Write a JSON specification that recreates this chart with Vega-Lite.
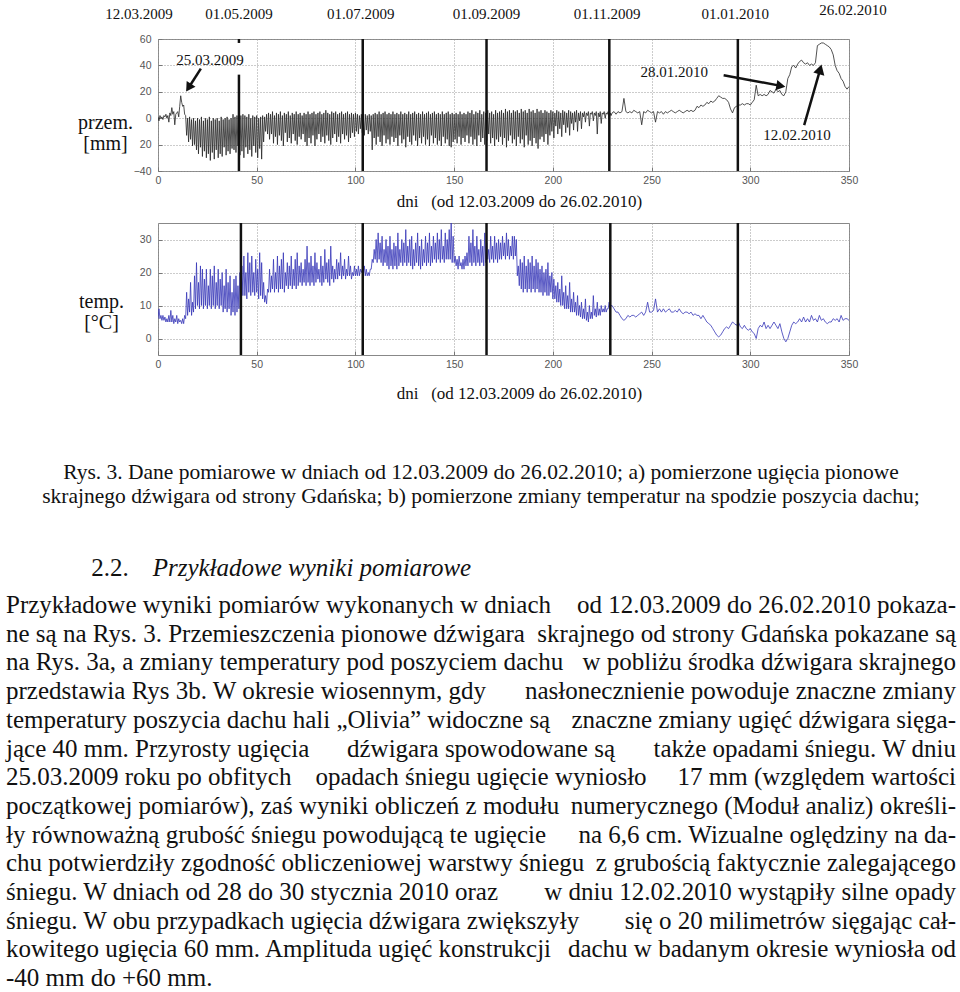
{
"$schema":"https://vega.github.io/schema/vega-lite/v6.json",
"background":"white",
"padding":{"left":5,"top":2,"right":0,"bottom":0},
"spacing":11,
"config":{"view":{"stroke":"#888","strokeWidth":1},"text":{"font":"Liberation Serif","color":"#111"},"axis":{"labelOverlap":false}},
"datasets":{
"s":[
{"day":0,"mm":1,"t":6},{"day":0.5,"mm":-2,"t":9},{"day":1,"mm":2,"t":6},{"day":1.5,"mm":0,"t":7},{"day":2,"mm":1,"t":5.5},{"day":2.5,"mm":-1,"t":7},{"day":3,"mm":2,"t":5.5},{"day":3.5,"mm":1,"t":6.5},{"day":4,"mm":3,"t":5},{"day":4.5,"mm":0,"t":6},{"day":5,"mm":2,"t":5},{"day":5.5,"mm":-3,"t":7},{"day":6,"mm":4,"t":5},{"day":6.5,"mm":2,"t":8.5},{"day":7,"mm":8,"t":5},{"day":7.5,"mm":3,"t":7},{"day":8,"mm":5,"t":4.5},{"day":8.5,"mm":-5,"t":6},{"day":9,"mm":3,"t":5},{"day":9.5,"mm":4,"t":7},{"day":10,"mm":5,"t":4.5},{"day":10.5,"mm":1,"t":6},{"day":11,"mm":9,"t":5},{"day":11.5,"mm":17,"t":5.5},{"day":12,"mm":12,"t":4.5},{"day":12.5,"mm":9,"t":6},{"day":13,"mm":10,"t":4.5},{"day":13.5,"mm":3,"t":7},{"day":14,"mm":2,"t":6},
{"day":14.5,"mm":-13,"t":14},{"day":15,"mm":0,"t":7},{"day":15.5,"mm":-18,"t":12},{"day":16,"mm":1,"t":8},{"day":16.5,"mm":-16,"t":17},{"day":17,"mm":-1,"t":7},{"day":17.5,"mm":-21,"t":11},{"day":18,"mm":0,"t":8},{"day":18.5,"mm":-20,"t":19},{"day":19,"mm":-2,"t":9},{"day":19.5,"mm":-24,"t":23},{"day":20,"mm":0,"t":10},{"day":20.5,"mm":-27,"t":17},{"day":21,"mm":-1,"t":9},{"day":21.5,"mm":-22,"t":22},{"day":22,"mm":1,"t":10},{"day":22.5,"mm":-29,"t":21},{"day":23,"mm":-2,"t":9},{"day":23.5,"mm":-25,"t":18},{"day":24,"mm":0,"t":10},{"day":24.5,"mm":-30,"t":21},{"day":25,"mm":-1,"t":9},{"day":25.5,"mm":-27,"t":16},{"day":26,"mm":1,"t":10},{"day":26.5,"mm":-32,"t":21},{"day":27,"mm":-2,"t":9},{"day":27.5,"mm":-26,"t":19},{"day":28,"mm":0,"t":10},{"day":28.5,"mm":-31,"t":22},{"day":29,"mm":-1,"t":9},{"day":29.5,"mm":-24,"t":17},{"day":30,"mm":0,"t":10},{"day":30.5,"mm":-30,"t":21},{"day":31,"mm":-2,"t":9},{"day":31.5,"mm":-27,"t":18},{"day":32,"mm":1,"t":10},{"day":32.5,"mm":-29,"t":20},{"day":33,"mm":-1,"t":8},{"day":33.5,"mm":-22,"t":16},{"day":34,"mm":0,"t":9},{"day":34.5,"mm":-28,"t":21},{"day":35,"mm":1,"t":8},{"day":35.5,"mm":-25,"t":17},{"day":36,"mm":-1,"t":9},{"day":36.5,"mm":-27,"t":19},{"day":37,"mm":0,"t":7},{"day":37.5,"mm":-23,"t":14},{"day":38,"mm":3,"t":8},{"day":38.5,"mm":-24,"t":18},{"day":39,"mm":1,"t":7},{"day":39.5,"mm":-26,"t":19},{"day":40,"mm":2,"t":8},{"day":40.5,"mm":-21,"t":16},{"day":41,"mm":3,"t":9},{"day":41.5,"mm":-28,"t":20},{"day":42,"mm":2,"t":12},
{"day":42.5,"mm":-25,"t":22},{"day":43,"mm":3,"t":13},{"day":43.5,"mm":-30,"t":25},{"day":44,"mm":2,"t":13},{"day":44.5,"mm":-22,"t":20},{"day":45,"mm":1,"t":12},{"day":45.5,"mm":-27,"t":26},{"day":46,"mm":3,"t":14},{"day":46.5,"mm":-24,"t":23},{"day":47,"mm":0,"t":13},{"day":47.5,"mm":-29,"t":25},{"day":48,"mm":2,"t":14},{"day":48.5,"mm":-21,"t":20},{"day":49,"mm":1,"t":13},{"day":49.5,"mm":-26,"t":24},{"day":50,"mm":2,"t":14},{"day":50.5,"mm":-30,"t":21},{"day":51,"mm":0,"t":12},{"day":51.5,"mm":-23,"t":26},{"day":52,"mm":1,"t":13},{"day":52.5,"mm":-31,"t":23},{"day":53,"mm":2,"t":12},{"day":53.5,"mm":-18,"t":17},{"day":54,"mm":1,"t":11},{"day":54.5,"mm":-10,"t":13},{"day":55,"mm":3,"t":10.5},{"day":55.5,"mm":-12,"t":15},
{"day":56,"mm":4,"t":14},{"day":56.5,"mm":-16,"t":21},{"day":57,"mm":3,"t":14},{"day":57.5,"mm":-12,"t":19},{"day":58,"mm":5,"t":15},{"day":58.5,"mm":-19,"t":24},{"day":59,"mm":2,"t":14},{"day":59.5,"mm":-14,"t":20},{"day":60,"mm":4,"t":15},{"day":60.5,"mm":-20,"t":25},{"day":61,"mm":3,"t":14},{"day":61.5,"mm":-13,"t":22},{"day":62,"mm":5,"t":15},{"day":62.5,"mm":-17,"t":24},{"day":63,"mm":2,"t":15},{"day":63.5,"mm":-21,"t":26},{"day":64,"mm":4,"t":14},{"day":64.5,"mm":-11,"t":20},{"day":65,"mm":3,"t":16},{"day":65.5,"mm":-18,"t":23},{"day":66,"mm":5,"t":15},{"day":66.5,"mm":-15,"t":22},{"day":67,"mm":2,"t":16},{"day":67.5,"mm":-19,"t":25},{"day":68,"mm":4,"t":15},{"day":68.5,"mm":-12,"t":21},{"day":69,"mm":3,"t":16},{"day":69.5,"mm":-17,"t":24},{"day":70,"mm":5,"t":15},{"day":70.5,"mm":-20,"t":26},{"day":71,"mm":3,"t":16},{"day":71.5,"mm":-14,"t":22},{"day":72,"mm":4,"t":17},{"day":72.5,"mm":-16,"t":23},{"day":73,"mm":2,"t":16},{"day":73.5,"mm":-12,"t":21},{"day":74,"mm":4,"t":17},{"day":74.5,"mm":-18,"t":24},{"day":75,"mm":3,"t":16},{"day":75.5,"mm":-21,"t":28},
{"day":76,"mm":5,"t":17},{"day":76.5,"mm":-15,"t":23},{"day":77,"mm":3,"t":16},{"day":77.5,"mm":-19,"t":25},{"day":78,"mm":4,"t":17},{"day":78.5,"mm":-13,"t":22},{"day":79,"mm":5,"t":16},{"day":79.5,"mm":-21,"t":26},{"day":80,"mm":3,"t":17},{"day":80.5,"mm":-16,"t":23},{"day":81,"mm":4,"t":18},{"day":81.5,"mm":-12,"t":21},{"day":82,"mm":5,"t":17},{"day":82.5,"mm":-18,"t":25},{"day":83,"mm":3,"t":16},{"day":83.5,"mm":-14,"t":22},{"day":84,"mm":4,"t":17},{"day":84.5,"mm":-19,"t":27},{"day":85,"mm":6,"t":18},{"day":85.5,"mm":-13,"t":23},{"day":86,"mm":4,"t":17},{"day":86.5,"mm":-17,"t":24},{"day":87,"mm":3,"t":16},{"day":87.5,"mm":-20,"t":28},{"day":88,"mm":5,"t":18},{"day":88.5,"mm":-15,"t":22},{"day":89,"mm":4,"t":17},{"day":89.5,"mm":-12,"t":21},{"day":90,"mm":5,"t":18},{"day":90.5,"mm":-18,"t":24},{"day":91,"mm":3,"t":18},{"day":91.5,"mm":-14,"t":23},{"day":92,"mm":4,"t":19},{"day":92.5,"mm":-19,"t":26},{"day":93,"mm":5,"t":18},{"day":93.5,"mm":-12,"t":22},{"day":94,"mm":3,"t":19},{"day":94.5,"mm":-16,"t":24},{"day":95,"mm":4,"t":18},{"day":95.5,"mm":-13,"t":21},{"day":96,"mm":5,"t":19},{"day":96.5,"mm":-18,"t":25},{"day":97,"mm":3,"t":19},{"day":97.5,"mm":-15,"t":22},{"day":98,"mm":4,"t":18},{"day":98.5,"mm":-11,"t":20},{"day":99,"mm":3,"t":19},{"day":99.5,"mm":-14,"t":22},{"day":100,"mm":4,"t":19},{"day":100.5,"mm":-10,"t":21},
{"day":101,"mm":3,"t":19},{"day":101.5,"mm":-12,"t":22},{"day":102,"mm":2,"t":19},{"day":102.5,"mm":-8,"t":21},{"day":103,"mm":3,"t":20},{"day":103.5,"mm":-11,"t":21},{"day":104,"mm":2,"t":19},{"day":104.5,"mm":-13,"t":22},{"day":105,"mm":3,"t":19},{"day":105.5,"mm":-9,"t":21},{"day":106,"mm":2,"t":19},{"day":106.5,"mm":-12,"t":20},{"day":107,"mm":3,"t":19},{"day":107.5,"mm":-10,"t":21},{"day":108,"mm":2,"t":21},{"day":108.5,"mm":-24,"t":24},
{"day":109,"mm":3,"t":23},{"day":109.5,"mm":-15,"t":27},{"day":110,"mm":4,"t":24},{"day":110.5,"mm":-20,"t":30},{"day":111,"mm":3,"t":23},{"day":111.5,"mm":-14,"t":32},{"day":112,"mm":5,"t":24},{"day":112.5,"mm":-18,"t":29},{"day":113,"mm":3,"t":23},{"day":113.5,"mm":-21,"t":31},{"day":114,"mm":4,"t":22},{"day":114.5,"mm":-13,"t":27},{"day":115,"mm":5,"t":23},{"day":115.5,"mm":-19,"t":30},{"day":116,"mm":3,"t":22},{"day":116.5,"mm":-16,"t":28},{"day":117,"mm":4,"t":21},{"day":117.5,"mm":-20,"t":31},{"day":118,"mm":3,"t":22},{"day":118.5,"mm":-14,"t":27},{"day":119,"mm":5,"t":21},{"day":119.5,"mm":-18,"t":29},{"day":120,"mm":3,"t":22},{"day":120.5,"mm":-15,"t":28},{"day":121,"mm":4,"t":21},{"day":121.5,"mm":-21,"t":32},{"day":122,"mm":3,"t":22},{"day":122.5,"mm":-13,"t":27},{"day":123,"mm":5,"t":23},{"day":123.5,"mm":-19,"t":30},{"day":124,"mm":3,"t":22},{"day":124.5,"mm":-16,"t":29},{"day":125,"mm":4,"t":23},{"day":125.5,"mm":-22,"t":33},{"day":126,"mm":3,"t":22},{"day":126.5,"mm":-14,"t":28},{"day":127,"mm":5,"t":23},{"day":127.5,"mm":-18,"t":30},{"day":128,"mm":3,"t":22},{"day":128.5,"mm":-20,"t":31},{"day":129,"mm":4,"t":21},{"day":129.5,"mm":-13,"t":27},{"day":130,"mm":5,"t":22},{"day":130.5,"mm":-17,"t":29},{"day":131,"mm":3,"t":23},{"day":131.5,"mm":-21,"t":32},{"day":132,"mm":4,"t":22},{"day":132.5,"mm":-15,"t":28},{"day":133,"mm":3,"t":21},{"day":133.5,"mm":-19,"t":30},{"day":134,"mm":5,"t":22},{"day":134.5,"mm":-14,"t":27},{"day":135,"mm":3,"t":23},{"day":135.5,"mm":-20,"t":31},{"day":136,"mm":4,"t":22},{"day":136.5,"mm":-16,"t":29},{"day":137,"mm":5,"t":23},{"day":137.5,"mm":-21,"t":32},{"day":138,"mm":3,"t":22},{"day":138.5,"mm":-13,"t":28},{"day":139,"mm":4,"t":23},{"day":139.5,"mm":-19,"t":31},{"day":140,"mm":5,"t":24},{"day":140.5,"mm":-15,"t":29},{"day":141,"mm":3,"t":23},{"day":141.5,"mm":-20,"t":32},{"day":142,"mm":4,"t":24},{"day":142.5,"mm":-17,"t":30},{"day":143,"mm":3,"t":23},{"day":143.5,"mm":-21,"t":33},{"day":144,"mm":5,"t":24},{"day":144.5,"mm":-14,"t":28},{"day":145,"mm":3,"t":23},{"day":145.5,"mm":-19,"t":32},{"day":146,"mm":4,"t":24},{"day":146.5,"mm":-16,"t":30},{"day":147,"mm":5,"t":24},{"day":147.5,"mm":-21,"t":33},{"day":148,"mm":3,"t":24},{"day":148.5,"mm":-22,"t":35},{"day":149,"mm":4,"t":23},{"day":149.5,"mm":-18,"t":31},
{"day":150,"mm":3,"t":23},{"day":150.5,"mm":-16,"t":25},{"day":151,"mm":4,"t":22},{"day":151.5,"mm":-19,"t":24},{"day":152,"mm":3,"t":21},{"day":152.5,"mm":-14,"t":25},{"day":153,"mm":5,"t":22},{"day":153.5,"mm":-20,"t":23},{"day":154,"mm":3,"t":21},{"day":154.5,"mm":-15,"t":24},{"day":155,"mm":4,"t":21},{"day":155.5,"mm":-18,"t":25},{"day":156,"mm":3,"t":22},{"day":156.5,"mm":-13,"t":26},
{"day":157,"mm":5,"t":22},{"day":157.5,"mm":-19,"t":31},{"day":158,"mm":4,"t":23},{"day":158.5,"mm":-14,"t":29},{"day":159,"mm":6,"t":22},{"day":159.5,"mm":-20,"t":33},{"day":160,"mm":3,"t":23},{"day":160.5,"mm":-16,"t":28},{"day":161,"mm":5,"t":22},{"day":161.5,"mm":-21,"t":31},{"day":162,"mm":4,"t":23},{"day":162.5,"mm":-13,"t":27},{"day":163,"mm":6,"t":22},{"day":163.5,"mm":-18,"t":30},{"day":164,"mm":3,"t":23},{"day":164.5,"mm":-15,"t":28},{"day":165,"mm":5,"t":22},{"day":165.5,"mm":-20,"t":32},{"day":166,"mm":4,"t":23},{"day":166.5,"mm":-17,"t":29},{"day":167,"mm":6,"t":24},{"day":167.5,"mm":-12,"t":27},{"day":168,"mm":4,"t":23},{"day":168.5,"mm":-19,"t":31},{"day":169,"mm":5,"t":24},{"day":169.5,"mm":-15,"t":28},{"day":170,"mm":3,"t":23},{"day":170.5,"mm":-21,"t":31},{"day":171,"mm":6,"t":24},{"day":171.5,"mm":-16,"t":29},{"day":172,"mm":4,"t":23},{"day":172.5,"mm":-18,"t":30},{"day":173,"mm":5,"t":24},{"day":173.5,"mm":-14,"t":29},{"day":174,"mm":6,"t":24},{"day":174.5,"mm":-20,"t":31},{"day":175,"mm":4,"t":25},{"day":175.5,"mm":-15,"t":29},{"day":176,"mm":7,"t":24},{"day":176.5,"mm":-22,"t":32},{"day":177,"mm":5,"t":25},{"day":177.5,"mm":-17,"t":30},{"day":178,"mm":6,"t":24},{"day":178.5,"mm":-13,"t":28},{"day":179,"mm":4,"t":25},{"day":179.5,"mm":-19,"t":31},{"day":180,"mm":6,"t":24},{"day":180.5,"mm":-16,"t":31},{"day":181,"mm":5,"t":25},{"day":181.5,"mm":-21,"t":30},
{"day":182,"mm":6,"t":19},{"day":182.5,"mm":-14,"t":22},{"day":183,"mm":4,"t":16},{"day":183.5,"mm":-19,"t":24},{"day":184,"mm":7,"t":15},{"day":184.5,"mm":-16,"t":23},{"day":185,"mm":5,"t":14},{"day":185.5,"mm":-22,"t":25},{"day":186,"mm":6,"t":15},{"day":186.5,"mm":-13,"t":22},{"day":187,"mm":4,"t":14},{"day":187.5,"mm":-20,"t":24},{"day":188,"mm":7,"t":15},{"day":188.5,"mm":-17,"t":23},{"day":189,"mm":5,"t":14},{"day":189.5,"mm":-21,"t":25},{"day":190,"mm":6,"t":15},{"day":190.5,"mm":-15,"t":22},{"day":191,"mm":4,"t":14},{"day":191.5,"mm":-19,"t":24},{"day":192,"mm":7,"t":15},{"day":192.5,"mm":-23,"t":23},{"day":193,"mm":5,"t":14},{"day":193.5,"mm":-16,"t":21},{"day":194,"mm":6,"t":14},{"day":194.5,"mm":-14,"t":22},{"day":195,"mm":4,"t":13},{"day":195.5,"mm":-18,"t":20},{"day":196,"mm":6,"t":14},{"day":196.5,"mm":-12,"t":21},{"day":197,"mm":5,"t":13},{"day":197.5,"mm":-20,"t":23},{"day":198,"mm":4,"t":13},{"day":198.5,"mm":-13,"t":19},{"day":199,"mm":6,"t":14},
{"day":199.5,"mm":-10,"t":20},{"day":200,"mm":5,"t":12},{"day":200.5,"mm":-15,"t":18},{"day":201,"mm":4,"t":12},{"day":201.5,"mm":-6,"t":16},{"day":202,"mm":6,"t":11},{"day":202.5,"mm":-12,"t":17},{"day":203,"mm":5,"t":11},{"day":203.5,"mm":-8,"t":15},{"day":204,"mm":4,"t":10},{"day":204.5,"mm":-14,"t":19},{"day":205,"mm":6,"t":10},{"day":205.5,"mm":-5,"t":14},{"day":206,"mm":5,"t":9},{"day":206.5,"mm":-11,"t":16},{"day":207,"mm":4,"t":9},{"day":207.5,"mm":-7,"t":13},{"day":208,"mm":6,"t":9},{"day":208.5,"mm":-13,"t":17},{"day":209,"mm":5,"t":8},{"day":209.5,"mm":-4,"t":12},{"day":210,"mm":4,"t":8},{"day":210.5,"mm":-9,"t":14},{"day":211,"mm":5,"t":8},{"day":211.5,"mm":-3,"t":11},{"day":212,"mm":6,"t":7},{"day":212.5,"mm":-10,"t":13},{"day":213,"mm":4,"t":7},{"day":213.5,"mm":-2,"t":10},{"day":214,"mm":5,"t":6.5},{"day":214.5,"mm":-8,"t":11},{"day":215,"mm":4,"t":6},
{"day":215.5,"mm":1,"t":9},{"day":216,"mm":5,"t":6},{"day":216.5,"mm":-3,"t":12},{"day":217,"mm":4,"t":5.5},{"day":217.5,"mm":2,"t":8},{"day":218,"mm":5,"t":5},{"day":218.5,"mm":-6,"t":10},{"day":219,"mm":4,"t":6},{"day":219.5,"mm":3,"t":8},{"day":220,"mm":5,"t":6},{"day":220.5,"mm":-2,"t":13},{"day":221,"mm":4,"t":7},{"day":221.5,"mm":2,"t":9},{"day":222,"mm":5,"t":6.5},{"day":222.5,"mm":-12,"t":11},{"day":223,"mm":4,"t":7},{"day":223.5,"mm":1,"t":9},{"day":224,"mm":5,"t":7},{"day":224.5,"mm":-4,"t":10},{"day":225,"mm":4,"t":8},{"day":225.5,"mm":3,"t":9},{"day":226,"mm":5,"t":8},{"day":226.5,"mm":0,"t":10},{"day":227,"mm":4,"t":8},{"day":227.5,"mm":3,"t":9},{"day":228,"mm":5,"t":9},{"day":228.5,"mm":-1,"t":11},{"day":229,"mm":4,"t":9.5},{"day":229.5,"mm":2,"t":10},
{"day":230,"mm":4,"t":10},{"day":231,"mm":5,"t":9},{"day":232,"mm":3,"t":8},{"day":233,"mm":5,"t":8},{"day":234,"mm":4,"t":7},{"day":235,"mm":5,"t":6},{"day":236,"mm":15,"t":5.5},{"day":237,"mm":5,"t":6},{"day":238,"mm":4,"t":7},{"day":239,"mm":5,"t":6.5},{"day":240,"mm":4,"t":7},{"day":241,"mm":6,"t":7},{"day":242,"mm":5,"t":6.5},{"day":243,"mm":4,"t":7},{"day":244,"mm":5,"t":7.5},{"day":245,"mm":-5,"t":8},{"day":246,"mm":5,"t":7},{"day":247,"mm":4,"t":8},{"day":248,"mm":6,"t":11},{"day":249,"mm":5,"t":8},{"day":250,"mm":4,"t":8},{"day":251,"mm":5,"t":8.5},{"day":252,"mm":-3,"t":12},{"day":253,"mm":5,"t":8},{"day":254,"mm":4,"t":9},{"day":255,"mm":5,"t":8},{"day":256,"mm":3,"t":9},{"day":257,"mm":5,"t":8},{"day":258,"mm":4,"t":8.5},{"day":259,"mm":5,"t":9},{"day":260,"mm":6,"t":8},{"day":261,"mm":5,"t":8},{"day":262,"mm":4,"t":8.5},{"day":263,"mm":5,"t":8},{"day":264,"mm":6,"t":9},{"day":265,"mm":5,"t":8},{"day":266,"mm":4,"t":7.5},{"day":267,"mm":5,"t":8},{"day":268,"mm":6,"t":8},{"day":269,"mm":5,"t":7.5},{"day":270,"mm":6,"t":8},{"day":271,"mm":5,"t":7},{"day":272,"mm":6,"t":7.5},{"day":273,"mm":9,"t":7},{"day":274,"mm":8,"t":7},{"day":275,"mm":10,"t":6},{"day":276,"mm":9,"t":7},{"day":277,"mm":10,"t":6},{"day":278,"mm":12,"t":5},{"day":279,"mm":11,"t":4.5},{"day":280,"mm":13,"t":4},{"day":281,"mm":12,"t":3},{"day":282,"mm":13,"t":2},{"day":283,"mm":15,"t":1},{"day":284,"mm":17,"t":0.5},{"day":285,"mm":16,"t":1},{"day":286,"mm":15,"t":2},{"day":287,"mm":15,"t":3},{"day":288,"mm":14,"t":3.5},{"day":289,"mm":12,"t":3},{"day":290,"mm":7,"t":4},{"day":291,"mm":4,"t":5},{"day":292,"mm":8,"t":4.5},{"day":293,"mm":9,"t":4},{"day":294,"mm":10,"t":5},{"day":295,"mm":10,"t":3.5},{"day":296,"mm":11,"t":3},{"day":297,"mm":10,"t":4},{"day":298,"mm":11,"t":3},{"day":299,"mm":11,"t":2.5},{"day":300,"mm":10,"t":3},{"day":301,"mm":12,"t":2},{"day":302,"mm":14,"t":1.5},{"day":303,"mm":25,"t":0},{"day":304,"mm":17,"t":3},{"day":305,"mm":18,"t":4},{"day":306,"mm":17,"t":3.5},{"day":307,"mm":18,"t":5},{"day":308,"mm":17,"t":3},{"day":309,"mm":18,"t":4},{"day":310,"mm":21,"t":3},{"day":311,"mm":20,"t":4},{"day":312,"mm":19,"t":5},{"day":313,"mm":22,"t":4},{"day":314,"mm":20,"t":3},{"day":315,"mm":21,"t":4.5},{"day":316,"mm":18,"t":2},{"day":317,"mm":17,"t":0},{"day":318,"mm":20,"t":-1},{"day":319,"mm":30,"t":0},{"day":320,"mm":33,"t":2},{"day":321,"mm":39,"t":4},{"day":322,"mm":40,"t":5},{"day":323,"mm":38,"t":4.5},{"day":324,"mm":41,"t":5},{"day":325,"mm":43,"t":6},{"day":326,"mm":44,"t":5},{"day":327,"mm":42,"t":6.5},{"day":328,"mm":41,"t":5},{"day":329,"mm":42,"t":6},{"day":330,"mm":40,"t":5},{"day":331,"mm":41,"t":7},{"day":332,"mm":40,"t":5.5},{"day":333,"mm":42,"t":6},{"day":334,"mm":55,"t":5},{"day":335,"mm":56,"t":7},{"day":336,"mm":57,"t":5.5},{"day":337,"mm":57,"t":6},{"day":338,"mm":56,"t":5},{"day":339,"mm":55,"t":4.5},{"day":340,"mm":54,"t":5},{"day":341,"mm":52,"t":5},{"day":342,"mm":48,"t":6},{"day":343,"mm":40,"t":5.5},{"day":344,"mm":36,"t":6},{"day":345,"mm":34,"t":5},{"day":346,"mm":30,"t":7},{"day":347,"mm":28,"t":5.5},{"day":348,"mm":24,"t":6},{"day":349,"mm":22,"t":6},{"day":350,"mm":24,"t":5.5}
],
"dates":[{"day":-9.6,"yv":79,"lbl":"12.03.2009"},{"day":41,"yv":79,"lbl":"01.05.2009"},{"day":102.7,"yv":79,"lbl":"01.07.2009"},{"day":166.4,"yv":79,"lbl":"01.09.2009"},{"day":227.5,"yv":79,"lbl":"01.11.2009"},{"day":292.4,"yv":79,"lbl":"01.01.2010"},{"day":352,"yv":82,"lbl":"26.02.2010"}],
"vtop":[{"day":41,"y1":-40,"y2":33},{"day":41,"y1":57,"y2":60},{"day":103.7,"y1":-40,"y2":60},{"day":166.4,"y1":-40,"y2":60},{"day":228.6,"y1":-40,"y2":60},{"day":293.7,"y1":-40,"y2":60}],
"vbot":[{"day":42},{"day":103.7},{"day":166.4},{"day":229.1},{"day":293.7}],
"ann":[{"day":26.3,"yv":43.9,"lbl":"25.03.2009"},{"day":261.5,"yv":35.1,"lbl":"28.01.2010"},{"day":323.6,"yv":-12.4,"lbl":"12.02.2010"}],
"arrows":[{"id":1,"x1":21.7,"y1":37.6,"x2":15.5,"y2":23.1},{"id":2,"x1":286.5,"y1":32.6,"x2":315.5,"y2":24.5},{"id":3,"x1":327.3,"y1":-5.3,"x2":335.4,"y2":37.0}],
"txt":[
{"ln":2.09,"kind":"cap","txt":"Rys. 3. Dane pomiarowe w dniach od 12.03.2009 do 26.02.2010; a) pomierzone ugięcia pionowe"},
{"ln":2.93,"kind":"cap","txt":"skrajnego dźwigara od strony Gdańska; b) pomierzone zmiany temperatur na spodzie poszycia dachu;"},
{"ln":5.4,"kind":"h1","txt":"2.2."},
{"ln":5.4,"kind":"h2","txt":"Przykładowe wyniki pomiarowe"},
{"ln":6.69,"kind":"L","txt":"Przykładowe wyniki pomiarów wykonanych w dniach"},{"ln":6.69,"kind":"R","txt":"od 12.03.2009 do 26.02.2010 pokaza-"},
{"ln":7.69,"kind":"L","txt":"ne są na Rys. 3. Przemieszczenia pionowe dźwigara"},{"ln":7.69,"kind":"R","txt":"skrajnego od strony Gdańska pokazane są"},
{"ln":8.69,"kind":"L","txt":"na Rys. 3a, a zmiany temperatury pod poszyciem dachu"},{"ln":8.69,"kind":"R","txt":"w pobliżu środka dźwigara skrajnego"},
{"ln":9.69,"kind":"L","txt":"przedstawia Rys 3b. W okresie wiosennym, gdy"},{"ln":9.69,"kind":"R","txt":"nasłonecznienie powoduje znaczne zmiany"},
{"ln":10.69,"kind":"L","txt":"temperatury poszycia dachu hali „Olivia” widoczne są"},{"ln":10.69,"kind":"R","txt":"znaczne zmiany ugięć dźwigara sięga-"},
{"ln":11.69,"kind":"L","txt":"jące 40 mm. Przyrosty ugięcia"},{"ln":11.69,"kind":"C","txt":"dźwigara spowodowane są"},{"ln":11.69,"kind":"R","txt":"także opadami śniegu. W dniu"},
{"ln":12.69,"kind":"L","txt":"25.03.2009 roku po obfitych"},{"ln":12.69,"kind":"C","txt":"opadach śniegu ugięcie wyniosło"},{"ln":12.69,"kind":"R","txt":"17 mm (względem wartości"},
{"ln":13.69,"kind":"L","txt":"początkowej pomiarów), zaś wyniki obliczeń z modułu"},{"ln":13.69,"kind":"R","txt":"numerycznego (Moduł analiz) określi-"},
{"ln":14.69,"kind":"L","txt":"ły równoważną grubość śniegu powodującą te ugięcie"},{"ln":14.69,"kind":"R","txt":"na 6,6 cm. Wizualne oględziny na da-"},
{"ln":15.69,"kind":"L","txt":"chu potwierdziły zgodność obliczeniowej warstwy śniegu"},{"ln":15.69,"kind":"R","txt":"z grubością faktycznie zalegającego"},
{"ln":16.69,"kind":"L","txt":"śniegu. W dniach od 28 do 30 stycznia 2010 oraz"},{"ln":16.69,"kind":"R","txt":"w dniu 12.02.2010 wystąpiły silne opady"},
{"ln":17.69,"kind":"L","txt":"śniegu. W obu przypadkach ugięcia dźwigara zwiększyły"},{"ln":17.69,"kind":"R","txt":"się o 20 milimetrów sięgając cał-"},
{"ln":18.69,"kind":"L","txt":"kowitego ugięcia 60 mm. Amplituda ugięć konstrukcji"},{"ln":18.69,"kind":"R","txt":"dachu w badanym okresie wyniosła od"},
{"ln":19.69,"kind":"L","txt":"-40 mm do +60 mm."}
]
},
"vconcat":[
{
"width":691,"height":132,
"layer":[
{"data":{"name":"s"},"mark":{"type":"line","color":"#262626","strokeWidth":0.8,"clip":true},
 "encoding":{
  "x":{"field":"day","type":"quantitative","scale":{"domain":[0,350],"nice":false,"zero":false},
   "axis":{"values":[0,50,100,150,200,250,300,350],"tickCount":20,"title":"dni\u00a0\u00a0\u00a0(od 12.03.2009 do 26.02.2010)","titleFont":"Liberation Serif","titleFontSize":17,"titleFontWeight":"normal","titleColor":"#111","titleX":361,"titleY":30,"titleBaseline":"middle","titleAlign":"center","labelFont":"Liberation Sans","labelFontSize":10.5,"labelColor":"#555","labelPadding":8,"labelFlush":false,"labelOverlap":false,"grid":true,"gridDash":[1,2],"gridColor":"#999","domain":false,"tickSize":-4,"tickColor":"#777"}},
  "y":{"field":"mm","type":"quantitative","scale":{"domain":[-40,60],"nice":false,"zero":false},
   "axis":{"values":[-40,-20,0,20,40,60],"tickCount":10,"labelExpr":"datum.value == -20 ? '20' : datum.label","title":["przem.","[mm]"],"titleAngle":0,"titleAlign":"center","titleBaseline":"middle","titleX":-53,"titleY":83,"titleFont":"Liberation Serif","titleFontSize":20,"titleFontWeight":"normal","titleColor":"#111","titleLineHeight":21,"labelFont":"Liberation Sans","labelFontSize":10.5,"labelColor":"#555","labelPadding":11,"labelOverlap":false,"grid":true,"gridDash":[1,2],"gridColor":"#999","domain":false,"tickSize":-4,"tickColor":"#777"}}
 }},
{"data":{"name":"vtop"},"mark":{"type":"rule","color":"#111","strokeWidth":2.5},
 "encoding":{"x":{"field":"day","type":"quantitative"},"y":{"field":"y1","type":"quantitative"},"y2":{"field":"y2"}}},
{"data":{"name":"dates"},"mark":{"type":"text","font":"Liberation Serif","fontSize":15,"color":"#111"},
 "encoding":{"x":{"field":"day","type":"quantitative"},"y":{"field":"yv","type":"quantitative"},"text":{"field":"lbl"}}},
{"data":{"name":"ann"},"mark":{"type":"text","font":"Liberation Serif","fontSize":15,"color":"#111"},
 "encoding":{"x":{"field":"day","type":"quantitative"},"y":{"field":"yv","type":"quantitative"},"text":{"field":"lbl"}}},
{"data":{"name":"arrows"},"mark":{"type":"rule","color":"#111","strokeWidth":2.5},
 "encoding":{"x":{"field":"x1","type":"quantitative"},"y":{"field":"y1","type":"quantitative"},"x2":{"field":"x2"},"y2":{"field":"y2"}}},
{"data":{"name":"arrows"},"transform":[{"filter":"datum.id == 1"}],"mark":{"type":"point","shape":"triangle-up","filled":true,"color":"#111","opacity":1,"size":110,"angle":213},
 "encoding":{"x":{"field":"x2","type":"quantitative"},"y":{"field":"y2","type":"quantitative"}}},
{"data":{"name":"arrows"},"transform":[{"filter":"datum.id == 2"}],"mark":{"type":"point","shape":"triangle-up","filled":true,"color":"#111","opacity":1,"size":110,"angle":100},
 "encoding":{"x":{"field":"x2","type":"quantitative"},"y":{"field":"y2","type":"quantitative"}}},
{"data":{"name":"arrows"},"transform":[{"filter":"datum.id == 3"}],"mark":{"type":"point","shape":"triangle-up","filled":true,"color":"#111","opacity":1,"size":130,"angle":16},
 "encoding":{"x":{"field":"x2","type":"quantitative"},"y":{"field":"y2","type":"quantitative"}}}
]
},
{
"width":691,"height":132,
"layer":[
{"data":{"name":"s"},"mark":{"type":"line","color":"#3636b8","strokeWidth":0.8,"clip":true},
 "encoding":{
  "x":{"field":"day","type":"quantitative","scale":{"domain":[0,350],"nice":false,"zero":false},
   "axis":{"values":[0,50,100,150,200,250,300,350],"tickCount":20,"title":"dni\u00a0\u00a0\u00a0(od 12.03.2009 do 26.02.2010)","titleFont":"Liberation Serif","titleFontSize":17,"titleFontWeight":"normal","titleColor":"#111","titleX":361,"titleY":38,"titleBaseline":"middle","titleAlign":"center","labelFont":"Liberation Sans","labelFontSize":10.5,"labelColor":"#555","labelPadding":8,"labelFlush":false,"labelOverlap":false,"grid":true,"gridDash":[1,2],"gridColor":"#999","domain":false,"tickSize":-4,"tickColor":"#777"}},
  "y":{"field":"t","type":"quantitative","scale":{"domain":[-5,35],"nice":false,"zero":false},
   "axis":{"values":[0,10,20,30],"tickCount":10,"title":["temp.","[°C]"],"titleAngle":0,"titleAlign":"center","titleBaseline":"middle","titleX":-57,"titleY":78,"titleFont":"Liberation Serif","titleFontSize":20,"titleFontWeight":"normal","titleColor":"#111","titleLineHeight":21,"labelFont":"Liberation Sans","labelFontSize":10.5,"labelColor":"#555","labelPadding":11,"labelOverlap":false,"grid":true,"gridDash":[1,2],"gridColor":"#999","domain":false,"tickSize":-4,"tickColor":"#777"}}
 }},
{"data":{"name":"vbot"},"mark":{"type":"rule","color":"#111","strokeWidth":2.5},
 "encoding":{"x":{"field":"day","type":"quantitative"},"y":{"datum":-5},"y2":{"datum":35}}}
]
},
{
"width":691,"height":574,
"view":{"stroke":null},
"data":{"name":"txt"},
"layer":[
{"transform":[{"filter":"datum.kind == 'cap'"}],"mark":{"type":"text","align":"center","baseline":"middle","font":"Liberation Serif","fontSize":21.5,"color":"#111"},
 "encoding":{"x":{"datum":0.5,"type":"quantitative","scale":{"domain":[0.16354,0.88333],"nice":false,"zero":false},"axis":null},"y":{"field":"ln","type":"quantitative","scale":{"domain":[0,20],"reverse":true,"nice":false,"zero":false},"axis":null},"text":{"field":"txt"}}},
{"transform":[{"filter":"datum.kind == 'h1'"}],"mark":{"type":"text","align":"left","baseline":"middle","font":"Liberation Serif","fontSize":25,"color":"#111"},
 "encoding":{"x":{"datum":0.094,"type":"quantitative"},"y":{"field":"ln","type":"quantitative"},"text":{"field":"txt"}}},
{"transform":[{"filter":"datum.kind == 'h2'"}],"mark":{"type":"text","align":"left","baseline":"middle","font":"Liberation Serif","fontStyle":"italic","fontSize":25,"color":"#111"},
 "encoding":{"x":{"datum":0.158,"type":"quantitative"},"y":{"field":"ln","type":"quantitative"},"text":{"field":"txt"}}},
{"transform":[{"filter":"datum.kind == 'L'"}],"mark":{"type":"text","align":"left","baseline":"middle","font":"Liberation Serif","fontSize":25,"color":"#111"},
 "encoding":{"x":{"datum":0.0052,"type":"quantitative"},"y":{"field":"ln","type":"quantitative"},"text":{"field":"txt"}}},
{"transform":[{"filter":"datum.kind == 'C'"}],"mark":{"type":"text","align":"center","baseline":"middle","font":"Liberation Serif","fontSize":25,"color":"#111"},
 "encoding":{"x":{"datum":0.5,"type":"quantitative"},"y":{"field":"ln","type":"quantitative"},"text":{"field":"txt"}}},
{"transform":[{"filter":"datum.kind == 'R'"}],"mark":{"type":"text","align":"right","baseline":"middle","font":"Liberation Serif","fontSize":25,"color":"#111"},
 "encoding":{"x":{"datum":0.9948,"type":"quantitative"},"y":{"field":"ln","type":"quantitative"},"text":{"field":"txt"}}}
]
}
]
}
